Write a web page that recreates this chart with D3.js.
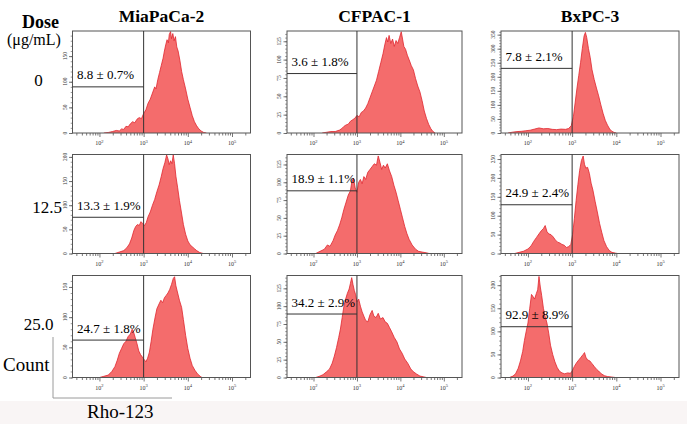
<!DOCTYPE html>
<html>
<head>
<meta charset="utf-8">
<script src="https://cdn.jsdelivr.net/npm/d3@7"></script>
<style>
  body { margin: 0; background: #fff; }
  svg { display: block; }
  .serif { font-family: "Liberation Serif", "DejaVu Serif", serif; }
</style>
</head>
<body>
<div id="chart"></div>
<script>
// Cell lines (columns) and doses (rows)
const cellLines = ['MiaPaCa-2', 'CFPAC-1', 'BxPC-3'];
const doses = ['0', '12.5', '25.0'];

// Gate label text, gate height (count) and y-axis max, row by row
const gateLabels = [
  ['8.8 ± 0.7%', '3.6 ± 1.8%', '7.8 ± 2.1%'],
  ['13.3 ± 1.9%', '18.9 ± 1.1%', '24.9 ± 2.4%'],
  ['24.7 ± 1.8%', '34.2 ± 2.9%', '92.9 ± 8.9%']
];
const gateHeights = [[90, 81, 230], [75, 88, 129], [62, 89, 110]];
const yMax = [[199, 139, 363], [205, 139, 262], [169, 143, 221]];
const yTickStep = [[50, 25, 50], [50, 25, 50], [50, 25, 50]];
const xDecades = [2, 3, 4, 5];

// Histograms: [log10 Rho-123, count]
const histMia0 = [[2.10,0],[2.2,1],[2.3,3],[2.38,5],[2.45,4],[2.5,8],[2.55,7],[2.6,13],[2.65,12],[2.7,18],[2.75,22],[2.8,20],[2.85,27],[2.9,30],[2.95,28],[3.0,38],[3.05,45],[3.1,58],[3.15,66],[3.2,78],[3.25,90],[3.28,86],[3.32,104],[3.36,118],[3.4,132],[3.44,146],[3.47,160],[3.5,172],[3.53,182],[3.56,176],[3.58,192],[3.61,198],[3.63,184],[3.66,194],[3.69,180],[3.72,188],[3.75,168],[3.78,160],[3.82,142],[3.86,120],[3.9,104],[3.95,86],[4.0,66],[4.05,50],[4.1,34],[4.15,22],[4.2,14],[4.25,8],[4.3,4],[4.36,1],[4.42,0]];
const histCf0 = [[2.2,0],[2.3,1],[2.4,2],[2.5,2],[2.6,4],[2.65,6],[2.7,9],[2.75,11],[2.8,12],[2.85,16],[2.9,18],[2.95,20],[3.0,24],[3.05,22],[3.1,28],[3.15,30],[3.2,34],[3.25,40],[3.3,48],[3.35,56],[3.4,64],[3.45,72],[3.5,84],[3.55,96],[3.6,108],[3.64,120],[3.68,130],[3.71,124],[3.74,133],[3.78,122],[3.82,128],[3.86,118],[3.9,126],[3.94,122],[3.98,130],[4.02,138],[4.05,128],[4.08,118],[4.12,114],[4.16,106],[4.2,100],[4.25,92],[4.3,86],[4.35,74],[4.4,64],[4.45,56],[4.5,44],[4.55,30],[4.6,20],[4.65,12],[4.7,6],[4.75,2],[4.8,0]];
const histBx0 = [[1.55,0],[1.65,3],[1.75,5],[1.85,6],[1.95,8],[2.05,10],[2.15,14],[2.25,18],[2.35,15],[2.45,16],[2.55,13],[2.65,12],[2.75,14],[2.85,13],[2.92,16],[2.98,26],[3.03,60],[3.07,110],[3.11,160],[3.15,205],[3.19,250],[3.23,300],[3.27,345],[3.3,358],[3.33,340],[3.37,300],[3.41,268],[3.45,225],[3.5,190],[3.55,160],[3.6,132],[3.65,100],[3.7,70],[3.75,45],[3.8,28],[3.85,14],[3.9,6],[3.95,2],[4.0,0]];
const histMia12 = [[2.35,0],[2.45,3],[2.55,6],[2.62,12],[2.68,20],[2.73,32],[2.78,48],[2.82,56],[2.86,60],[2.9,58],[2.94,66],[2.98,62],[3.02,58],[3.06,64],[3.1,76],[3.15,86],[3.2,100],[3.25,112],[3.3,128],[3.35,142],[3.4,160],[3.44,176],[3.48,188],[3.52,204],[3.55,196],[3.58,184],[3.61,192],[3.64,186],[3.67,204],[3.7,186],[3.73,160],[3.77,136],[3.81,110],[3.85,88],[3.9,60],[3.95,40],[4.0,26],[4.05,18],[4.1,14],[4.15,10],[4.2,6],[4.27,2],[4.35,0]];
const histCf12 = [[2.05,0],[2.15,3],[2.25,6],[2.32,12],[2.38,10],[2.45,18],[2.5,26],[2.55,32],[2.6,40],[2.65,50],[2.7,62],[2.75,72],[2.8,82],[2.85,88],[2.88,100],[2.92,106],[2.96,92],[3.0,86],[3.04,100],[3.08,104],[3.12,98],[3.16,108],[3.2,104],[3.25,114],[3.3,118],[3.35,122],[3.4,126],[3.45,124],[3.49,137],[3.53,128],[3.57,118],[3.61,124],[3.65,120],[3.7,126],[3.75,116],[3.8,108],[3.85,96],[3.9,86],[3.95,74],[4.0,62],[4.05,50],[4.1,38],[4.15,28],[4.2,20],[4.27,12],[4.35,6],[4.42,3],[4.5,2],[4.6,1],[4.66,0]];
const histBx12 = [[1.7,0],[1.8,3],[1.9,6],[2.0,12],[2.07,20],[2.13,32],[2.19,42],[2.25,52],[2.3,60],[2.35,66],[2.39,74],[2.43,58],[2.47,52],[2.52,50],[2.57,44],[2.62,36],[2.67,30],[2.72,28],[2.77,24],[2.82,22],[2.87,16],[2.92,18],[2.97,24],[3.01,50],[3.05,92],[3.09,140],[3.13,182],[3.17,220],[3.21,246],[3.25,258],[3.28,236],[3.31,226],[3.35,228],[3.39,212],[3.43,186],[3.47,168],[3.52,138],[3.57,110],[3.62,80],[3.67,56],[3.72,34],[3.78,18],[3.84,8],[3.9,3],[3.98,1],[4.03,0]];
const histMia25 = [[2.0,0],[2.1,2],[2.2,4],[2.28,10],[2.35,18],[2.4,28],[2.45,40],[2.5,48],[2.55,56],[2.6,60],[2.65,68],[2.7,72],[2.74,80],[2.77,76],[2.81,66],[2.85,56],[2.89,44],[2.93,38],[2.97,34],[3.01,30],[3.05,26],[3.09,32],[3.13,42],[3.17,60],[3.21,80],[3.26,100],[3.3,114],[3.35,122],[3.39,128],[3.43,124],[3.47,132],[3.51,136],[3.55,140],[3.59,146],[3.63,154],[3.67,164],[3.7,167],[3.73,152],[3.77,140],[3.81,128],[3.86,116],[3.9,96],[3.95,70],[4.0,48],[4.05,32],[4.1,20],[4.16,12],[4.22,6],[4.28,2],[4.32,0]];
const histCf25 = [[2.05,0],[2.15,2],[2.22,4],[2.3,8],[2.37,12],[2.43,20],[2.48,30],[2.53,42],[2.58,56],[2.62,68],[2.66,84],[2.7,100],[2.74,110],[2.78,118],[2.82,124],[2.85,132],[2.88,140],[2.91,130],[2.94,122],[2.97,116],[3.0,106],[3.04,110],[3.08,100],[3.12,92],[3.16,86],[3.2,80],[3.25,78],[3.3,88],[3.35,94],[3.39,86],[3.44,84],[3.49,90],[3.54,82],[3.6,84],[3.65,78],[3.7,76],[3.75,70],[3.8,64],[3.86,56],[3.92,50],[3.98,40],[4.04,34],[4.1,26],[4.17,20],[4.24,12],[4.3,8],[4.37,5],[4.45,2],[4.53,1],[4.6,0]];
const histBx25 = [[1.58,0],[1.66,3],[1.72,8],[1.78,20],[1.83,36],[1.88,56],[1.92,80],[1.96,100],[2.0,118],[2.04,150],[2.08,180],[2.11,176],[2.15,170],[2.19,182],[2.22,190],[2.25,219],[2.28,196],[2.31,178],[2.35,150],[2.39,132],[2.43,118],[2.47,96],[2.51,70],[2.56,50],[2.61,34],[2.66,22],[2.71,14],[2.77,10],[2.83,8],[2.9,10],[2.96,9],[3.0,14],[3.05,24],[3.1,32],[3.15,38],[3.2,44],[3.25,50],[3.28,54],[3.31,44],[3.35,38],[3.4,36],[3.45,30],[3.5,24],[3.55,18],[3.6,14],[3.66,8],[3.73,4],[3.8,2],[3.9,1],[3.98,0]];

const histograms = [
  [histMia0, histCf0, histBx0],
  [histMia12, histCf12, histBx12],
  [histMia25, histCf25, histBx25]
];

// Layout
const W = 687, H = 424;
const colX = [72.5, 287, 501];
const colW = [178, 175, 178];
const rowY = [31, 154.5, 275.5];
const rowH = [102, 99, 102];
const xDomain = [Math.pow(10, 1.39), 262144];

const svg = d3.select('#chart')
  .append('svg')
  .attr('width', W)
  .attr('height', H)
  .attr('class', 'serif');

// faint band at the bottom of the figure
svg.append('rect')
  .attr('x', 0).attr('y', 401)
  .attr('width', W).attr('height', H - 401)
  .attr('fill', '#f9f5f5');

// Column titles
svg.selectAll('.col-title')
  .data(cellLines)
  .enter()
  .append('text')
  .attr('x', (d, i) => colX[i] + colW[i] / 2)
  .attr('y', 22)
  .attr('text-anchor', 'middle')
  .style('font-size', '17.5px')
  .style('font-weight', 'bold')
  .text(d => d);

// Dose header
svg.append('text')
  .attr('x', 22).attr('y', 28)
  .style('font-size', '18px')
  .style('font-weight', 'bold')
  .text('Dose');
svg.append('text')
  .attr('x', 7).attr('y', 45)
  .style('font-size', '16px')
  .text('(μg/mL)');

const doseX = [38.5, 47, 38.5];
const doseY = [86, 213, 330];
svg.selectAll('.dose')
  .data(doses)
  .enter()
  .append('text')
  .attr('x', (d, i) => doseX[i])
  .attr('y', (d, i) => doseY[i])
  .attr('text-anchor', 'middle')
  .style('font-size', '17px')
  .text(d => d);

// Count / Rho-123 legend corner
svg.append('text')
  .attr('x', 3).attr('y', 371)
  .style('font-size', '19px')
  .text('Count');
svg.append('text')
  .attr('x', 87).attr('y', 418)
  .style('font-size', '19px')
  .text('Rho-123');
svg.append('path')
  .attr('d', 'M53,337V398H172')
  .attr('fill', 'none')
  .attr('stroke', '#9a9a9a')
  .attr('stroke-width', 1);

// Panels
histograms.forEach((row, r) => {
  row.forEach((data, c) => {
    const w = colW[c], h = rowH[r];
    const g = svg.append('g')
      .attr('transform', `translate(${colX[c]},${rowY[r]})`);

    const x = d3.scaleLog().domain(xDomain).range([0, w]);
    const y = d3.scaleLinear().domain([0, yMax[r][c]]).range([h, 0]);

    const clipId = `clip-${r}-${c}`;
    g.append('clipPath').attr('id', clipId)
      .append('rect').attr('width', w).attr('height', h);

    const area = d3.area()
      .x(d => x(Math.pow(10, d[0])))
      .y0(h)
      .y1(d => y(d[1]));
    const line = d3.line()
      .x(d => x(Math.pow(10, d[0])))
      .y(d => y(d[1]));

    g.append('path')
      .datum(data)
      .attr('clip-path', `url(#${clipId})`)
      .attr('d', area)
      .attr('fill', '#f46c6c');
    g.append('path')
      .datum(data)
      .attr('clip-path', `url(#${clipId})`)
      .attr('d', line)
      .attr('fill', 'none')
      .attr('stroke', '#e0262e')
      .attr('stroke-width', 0.8);

    // Frame
    g.append('rect')
      .attr('width', w).attr('height', h)
      .attr('fill', 'none')
      .attr('stroke', '#555')
      .attr('stroke-width', 1);

    // Gate: vertical at 10^3, horizontal from left edge
    const gx = x(1000);
    const gy = y(gateHeights[r][c]);
    g.append('path')
      .attr('d', `M${gx},0V${h}M0,${gy}H${gx}`)
      .attr('fill', 'none')
      .attr('stroke', '#333')
      .attr('stroke-width', 1);
    g.append('text')
      .attr('x', 4.5)
      .attr('y', gy - 7.5)
      .style('font-size', '13px')
      .text(gateLabels[r][c]);

    // X axis: log ticks hanging below the frame
    const minor = [];
    [1, 2, 3, 4, 5].forEach(e => {
      for (let k = 2; k <= 9; k++) {
        const v = k * Math.pow(10, e);
        if (v > xDomain[0] && v < xDomain[1]) minor.push(v);
      }
    });
    const major = xDecades.map(e => Math.pow(10, e));
    g.append('g')
      .attr('transform', `translate(0,${h})`)
      .call(d3.axisBottom(x).tickValues(minor).tickSize(2.5).tickFormat(''))
      .call(a => a.select('.domain').remove())
      .call(a => a.selectAll('line').attr('stroke', '#555').attr('stroke-width', 0.8));
    g.append('g')
      .attr('transform', `translate(0,${h})`)
      .call(d3.axisBottom(x).tickValues(major).tickSize(4).tickFormat(''))
      .call(a => a.select('.domain').remove())
      .call(a => a.selectAll('line').attr('stroke', '#555').attr('stroke-width', 0.8));
    const xl = g.selectAll('.xlab')
      .data(xDecades)
      .enter()
      .append('text')
      .attr('x', d => x(Math.pow(10, d)))
      .attr('y', h + 12)
      .attr('text-anchor', 'middle')
      .style('font-size', '6px')
      .style('fill', '#333');
    xl.append('tspan').text('10');
    xl.append('tspan').attr('dy', -2.5).style('font-size', '4.5px').text(d => d);

    // Y axis: rotated labels, major and minor ticks
    const step = yTickStep[r][c];
    const yMajor = d3.range(0, yMax[r][c] + 0.1, step);
    const yMinor = d3.range(0, yMax[r][c], step / 5);
    g.append('g')
      .call(d3.axisLeft(y).tickValues(yMinor).tickSize(1.8).tickFormat(''))
      .call(a => a.select('.domain').remove())
      .call(a => a.selectAll('line').attr('stroke', '#555').attr('stroke-width', 0.6));
    g.append('g')
      .call(d3.axisLeft(y).tickValues(yMajor).tickSize(3.5).tickFormat(''))
      .call(a => a.select('.domain').remove())
      .call(a => a.selectAll('line').attr('stroke', '#555').attr('stroke-width', 0.8));
    g.selectAll('.ylab')
      .data(yMajor)
      .enter()
      .append('text')
      .attr('transform', d => `translate(-6,${y(d)}) rotate(-90)`)
      .attr('text-anchor', 'middle')
      .style('font-size', '5.5px')
      .style('fill', '#333')
      .text(d => d);
  });
});
</script>
</body>
</html>
